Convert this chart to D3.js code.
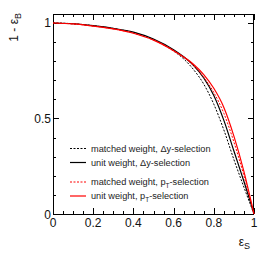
<!DOCTYPE html>
<html>
<head>
<meta charset="utf-8">
<script src="https://cdn.jsdelivr.net/npm/d3@7"></script>
<style>
  body { margin: 0; background: #fff; }
  svg text { font-family: "Liberation Sans", Arial, sans-serif; }
</style>
</head>
<body>
<div class="plot"></div>
<script>
// signal efficiency points (x)
var effS = [0, 0.1, 0.2, 0.3, 0.4, 0.5, 0.6, 0.65, 0.7, 0.75, 0.8, 0.85, 0.9, 0.95, 0.98, 1];

// 1 - background efficiency
var matchedDy = [1, 0.996, 0.986, 0.971, 0.950, 0.913, 0.853, 0.812, 0.755, 0.680, 0.575, 0.440, 0.285, 0.140, 0.055, 0];
var unitDy    = [1, 0.996, 0.986, 0.972, 0.952, 0.916, 0.860, 0.823, 0.777, 0.712, 0.620, 0.490, 0.330, 0.170, 0.070, 0];
var matchedPt = [1, 0.995, 0.984, 0.969, 0.947, 0.911, 0.855, 0.820, 0.776, 0.716, 0.636, 0.527, 0.377, 0.200, 0.082, 0];
var unitPt    = [1, 0.995, 0.984, 0.969, 0.946, 0.910, 0.855, 0.822, 0.783, 0.730, 0.658, 0.558, 0.408, 0.222, 0.091, 0];

var xTicks = [0, 0.2, 0.4, 0.6, 0.8, 1];
var yTicks = [0, 0.5, 1];

(function() {

var width = 268,
    height = 268;

// frame edges (do not call one "top", that is window.top)
var x0 = 53, x1 = 254, yTop = 14, yBot = 214;

var svg = d3.select(".plot").append("svg")
    .attr("width", width)
    .attr("height", height);

var x = d3.scaleLinear().domain([0, 1]).range([x0, x1]);
var y = d3.scaleLinear().domain([0, 1.047]).range([yBot, yTop]);

// ticks, all four sides, pointing inwards
var xMinor = d3.range(0, 1.0001, 0.05);
var yMinor = d3.range(0, 1.0001, 0.1);

function isMajor(v, list) {
  return list.some(function(t) { return Math.abs(t - v) < 1e-6; });
}

var ticks = svg.append("g").attr("stroke", "#000").attr("stroke-width", 1);

xMinor.forEach(function(v) {
  var len = isMajor(v, xTicks) ? 6 : 3;
  var px = Math.round(x(v)) + 0.5;
  ticks.append("line").attr("x1", px).attr("x2", px).attr("y1", yBot).attr("y2", yBot - len);
  ticks.append("line").attr("x1", px).attr("x2", px).attr("y1", yTop).attr("y2", yTop + len);
});

yMinor.forEach(function(v) {
  var len = isMajor(v, yTicks) ? 6 : 3;
  var py = Math.round(y(v)) + 0.5;
  ticks.append("line").attr("x1", x0).attr("x2", x0 + len).attr("y1", py).attr("y2", py);
  ticks.append("line").attr("x1", x1).attr("x2", x1 - len).attr("y1", py).attr("y2", py);
});

// frame
svg.append("rect")
    .attr("x", x0 + 0.5)
    .attr("y", yTop + 0.5)
    .attr("width", x1 - x0 - 1)
    .attr("height", yBot - yTop)
    .attr("fill", "none")
    .attr("stroke", "#000")
    .attr("stroke-width", 1);

// tick labels
svg.selectAll("text.xl")
    .data(xTicks)
  .enter().append("text")
    .attr("class", "xl")
    .attr("x", function(d) { return x(d); })
    .attr("y", 227)
    .attr("text-anchor", "middle")
    .attr("fill", "#111")
    .style("font-size", "12px")
    .text(function(d) { return d3.format("~g")(d); });

svg.selectAll("text.yl")
    .data(yTicks)
  .enter().append("text")
    .attr("class", "yl")
    .attr("x", 51)
    .attr("y", function(d) { return y(d) + 4.5; })
    .attr("text-anchor", "end")
    .attr("fill", "#111")
    .style("font-size", "12px")
    .text(function(d) { return d3.format("~g")(d); });

// axis titles
var xt = svg.append("text")
    .attr("x", 250)
    .attr("y", 246)
    .attr("text-anchor", "end")
    .attr("fill", "#111")
    .style("font-size", "12px");
xt.append("tspan").text("\u03b5");
xt.append("tspan").attr("dy", 3).style("font-size", "9px").text("S");

var yt = svg.append("text")
    .attr("transform", "translate(18,13) rotate(-90)")
    .attr("text-anchor", "end")
    .attr("fill", "#111")
    .style("font-size", "12px");
yt.append("tspan").text("1 - \u03b5");
yt.append("tspan").attr("dy", 3).style("font-size", "9px").text("B");

// curves
var line = d3.line()
    .x(function(d, i) { return x(effS[i]); })
    .y(function(d) { return y(d); })
    .curve(d3.curveMonotoneX);

var series = [
  { values: matchedDy, color: "#000", width: 1, dash: "2,1.5" },
  { values: unitDy,    color: "#000", width: 1.2, dash: null },
  { values: matchedPt, color: "#ff0000", width: 1, dash: "2,1.5" },
  { values: unitPt,    color: "#ff0000", width: 1.2, dash: null }
];

var plot = svg.append("g");

plot.selectAll("path")
    .data(series)
  .enter().append("path")
    .attr("d", function(d) { return line(d.values); })
    .attr("fill", "none")
    .attr("stroke", function(d) { return d.color; })
    .attr("stroke-width", function(d) { return d.width; })
    .attr("stroke-dasharray", function(d) { return d.dash; });

// legend
var legendY = [148.5, 162.5, 182, 196];
var labels = [
  ["matched weight, \u0394y-selection"],
  ["unit weight, \u0394y-selection"],
  ["matched weight, p", "T", "-selection"],
  ["unit weight, p", "T", "-selection"]
];

var legend = svg.append("g");

series.forEach(function(s, i) {
  legend.append("line")
      .attr("x1", 70).attr("x2", 86)
      .attr("y1", legendY[i]).attr("y2", legendY[i])
      .attr("stroke", s.color)
      .attr("stroke-width", s.width)
      .attr("stroke-dasharray", s.dash);

  var t = legend.append("text")
      .attr("x", 91)
      .attr("y", legendY[i] + 3.3)
      .attr("fill", "#222")
      .style("font-size", "9.2px");
  t.append("tspan").text(labels[i][0]);
  if (labels[i].length > 1) {
    t.append("tspan").attr("dy", 3).style("font-size", "6.5px").text(labels[i][1]);
    t.append("tspan").attr("dy", -3).text(labels[i][2]);
  }
});

})();
</script>
</body>
</html>
